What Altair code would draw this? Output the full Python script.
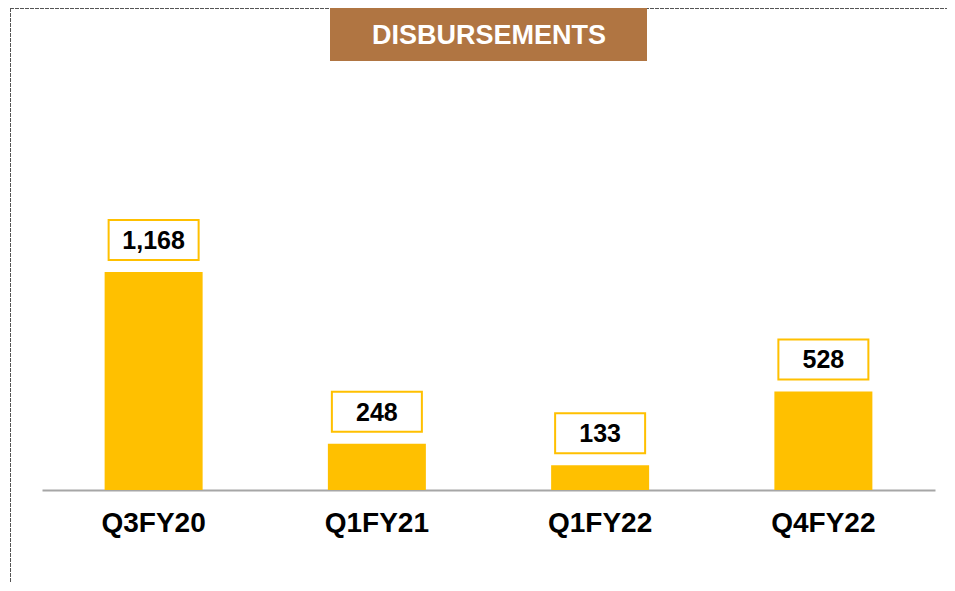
import altair as alt
import pandas as pd

categories = ["Q3FY20", "Q1FY21", "Q1FY22", "Q4FY22"]
values = [1168, 248, 133, 528]
title_text = "DISBURSEMENTS"

df = pd.DataFrame({"quarter": categories, "value": values})

BAR = "#FFC000"
FONT = "Liberation Sans"

x = alt.X("quarter:N", sort=categories, title=None,
          scale=alt.Scale(paddingInner=0.56, paddingOuter=0.28),
          axis=alt.Axis(labelAngle=0, labelFontSize=28, labelFontWeight="bold",
                        labelColor="#000000", labelFont=FONT, labelPadding=19,
                        ticks=False, domainColor="#A6A6A6", domainWidth=2, grid=False))
y = alt.Y("value:Q", title=None, scale=alt.Scale(domain=[0, 2582], nice=False), axis=None)

base = alt.Chart(df)

bars = base.mark_bar(color=BAR, size=98).encode(x=x, y=y)

box_path = "M-1,-0.444L1,-0.444L1,0.444L-1,0.444Z"
boxes = base.mark_point(shape=box_path, size=8100, filled=False, fill="white",
                        fillOpacity=1, stroke=BAR, strokeWidth=2, opacity=1,
                        yOffset=-32).encode(x=x, y=y)
labels = base.mark_text(font=FONT, fontSize=25, fontWeight="bold", color="#000000",
                        baseline="middle", align="center", yOffset=-31).encode(
    x=x, y=y, text=alt.Text("value:Q", format=","))

title_box = alt.Chart(pd.DataFrame({"t": [title_text]})).mark_rect(color="#B07542").encode(
    x=alt.value(288), x2=alt.value(605), y=alt.value(0), y2=alt.value(53))
title_lbl = alt.Chart(pd.DataFrame({"t": [title_text]})).mark_text(
    font=FONT, fontSize=27, fontWeight="bold", color="white", baseline="middle", align="center"
).encode(x=alt.value(447), y=alt.value(28), text="t:N")

top_line = alt.Chart(pd.DataFrame({"t": [0]})).mark_rule(
    color="#555555", strokeWidth=1, strokeDash=[4, 1]).encode(
    x=alt.value(-32), x2=alt.value(913), y=alt.value(0.5))
left_line = alt.Chart(pd.DataFrame({"t": [0]})).mark_rule(
    color="#555555", strokeWidth=1, strokeDash=[4, 1]).encode(
    x=alt.value(-31.5), y=alt.value(0), y2=alt.value(600))

chart = alt.layer(top_line, left_line, bars, boxes, labels, title_box, title_lbl).properties(
    width=893, height=482,
    view=alt.ViewBackground(stroke=None, strokeWidth=0),
    autosize=alt.AutoSizeParams(type="none"),
    padding={"left": 34, "top": 0, "right": 12, "bottom": 93},
).configure_view(strokeWidth=0, strokeOpacity=0).configure(background="white")

chart.save("out.html", embed_options={"renderer": "svg", "actions": False})
